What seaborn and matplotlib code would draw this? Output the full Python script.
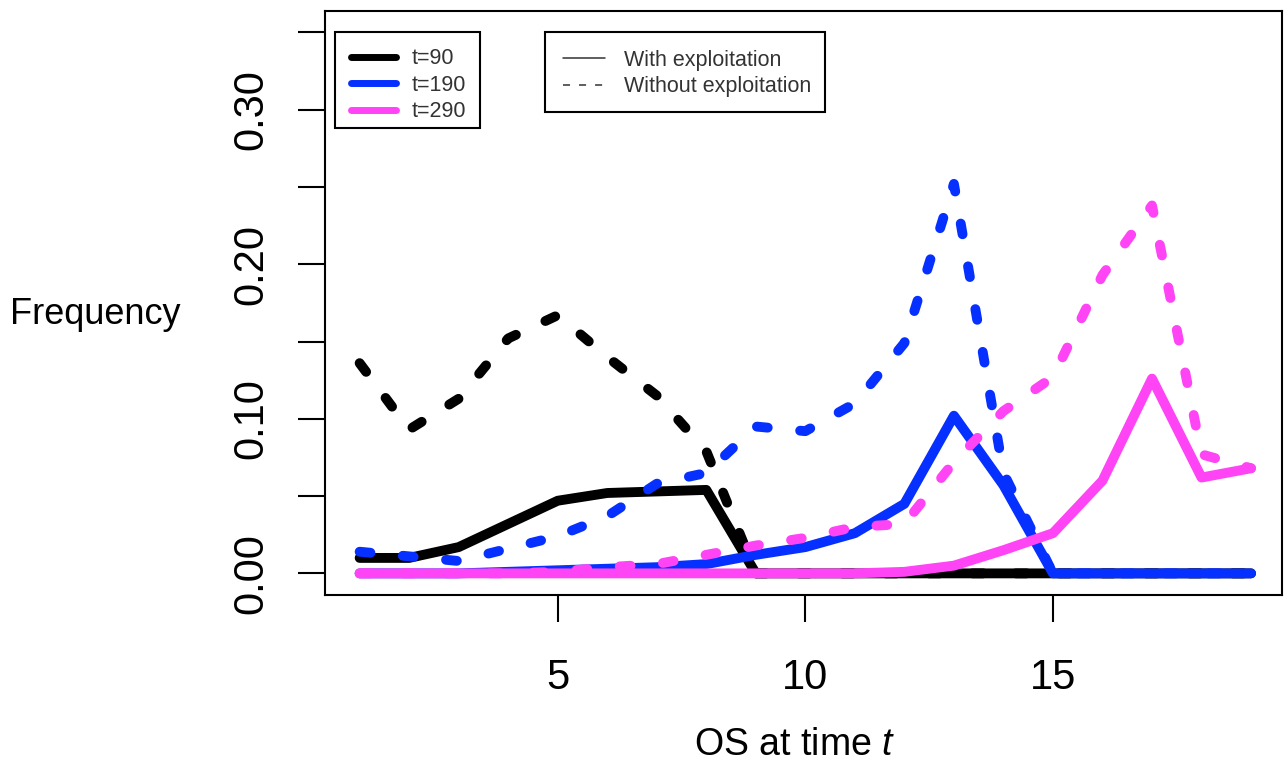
import matplotlib
matplotlib.use("Agg")
import numpy as np
import pandas as pd
import seaborn as sns
import matplotlib.pyplot as plt
from matplotlib.lines import Line2D
from matplotlib.patches import Rectangle
from matplotlib.ticker import FixedLocator, FixedFormatter

# ---------------- data ----------------
os_state = list(range(1, 20))
time_labels = ["t=90", "t=190", "t=290"]
time_colors = ["#000000", "#0530FF", "#FF44F6"]
style_labels = ["With exploitation", "Without exploitation"]

with_t90 = [0.010, 0.010, 0.017, 0.032, 0.047, 0.052, 0.053, 0.054, 0.0,
            0.0, 0.0, 0.0, 0.0, 0.0, 0.0, 0.0, 0.0, 0.0, 0.0]
without_t90 = [0.136, 0.093, 0.113, 0.152, 0.167, 0.140, 0.115, 0.079, 0.0,
               0.0, 0.0, 0.0, 0.0, 0.0, 0.0, 0.0, 0.0, 0.0, 0.0]
with_t190 = [0.0, 0.0, 0.0, 0.001, 0.002, 0.003, 0.004, 0.006, 0.012,
             0.017, 0.026, 0.045, 0.102, 0.057, 0.0, 0.0, 0.0, 0.0, 0.0]
without_t190 = [0.014, 0.011, 0.008, 0.016, 0.024, 0.037, 0.058, 0.065, 0.095,
                0.092, 0.110, 0.149, 0.252, 0.065, 0.0, 0.0, 0.0, 0.0, 0.0]
with_t290 = [0.0, 0.0, 0.0, 0.0, 0.0, 0.0, 0.0, 0.0, 0.0,
             0.0, 0.0, 0.001, 0.005, 0.015, 0.026, 0.060, 0.126, 0.062, 0.068]
without_t290 = [0.0, 0.0, 0.0, 0.0, 0.001, 0.004, 0.006, 0.012, 0.018,
                0.023, 0.030, 0.032, 0.072, 0.105, 0.127, 0.193, 0.238, 0.077, 0.068]

y_ticks = [0.0, 0.05, 0.10, 0.15, 0.20, 0.25, 0.30, 0.35]
y_ticklabels = ["0.00", "", "0.10", "", "0.20", "", "0.30", ""]
x_ticks = [5, 10, 15]
x_ticklabels = ["5", "10", "15"]

series = [
    ("t=90", "With exploitation", with_t90),
    ("t=90", "Without exploitation", without_t90),
    ("t=190", "With exploitation", with_t190),
    ("t=190", "Without exploitation", without_t190),
    ("t=290", "With exploitation", with_t290),
    ("t=290", "Without exploitation", without_t290),
]
rows = []
for t, s, vals in series:
    for x, v in zip(os_state, vals):
        rows.append({"os": x, "freq": v, "time": t, "kind": s})
df = pd.DataFrame(rows)

# ---------------- style ----------------
sns.set_style("white")
plt.rcParams["font.family"] = ["Liberation Sans", "DejaVu Sans"]
plt.rcParams["mathtext.fontset"] = "custom"
plt.rcParams["mathtext.it"] = "Liberation Sans:italic"
plt.rcParams["mathtext.rm"] = "Liberation Sans"

W, H = 1286, 765
fig = plt.figure(figsize=(W / 100, H / 100), dpi=100)
ax = fig.add_axes([0.2527, 0.2222, 0.7440, 0.7638])

color_map = dict(zip(time_labels, time_colors))
main_lw = 7.1
dash_pat = (0, (1.1, 3.3))

for t, s, _ in series:
    sub = df[(df["time"] == t) & (df["kind"] == s)]
    ls = "-" if s == "With exploitation" else dash_pat
    sns.lineplot(data=sub, x="os", y="freq", ax=ax, color=color_map[t],
                 linewidth=main_lw, linestyle=ls, estimator=None, errorbar=None,
                 sort=False, solid_capstyle="round", solid_joinstyle="round",
                 dash_capstyle="round", dash_joinstyle="round")

ax.set_xlim(0.3, 19.62)
ax.set_ylim(-0.014, 0.364)
ax.set_xlabel("")
ax.set_ylabel("")

for sp in ax.spines.values():
    sp.set_visible(True)
    sp.set_color("black")
    sp.set_linewidth(1.5)

ax.yaxis.set_major_locator(FixedLocator(y_ticks))
ax.yaxis.set_major_formatter(FixedFormatter(y_ticklabels))
ax.xaxis.set_major_locator(FixedLocator(x_ticks))
ax.xaxis.set_major_formatter(FixedFormatter(x_ticklabels))
ax.tick_params(axis="both", direction="out", length=19.4, width=1.5,
               color="black", labelsize=30, labelcolor="black",
               left=True, bottom=True)
ax.tick_params(axis="x", pad=26)
ax.tick_params(axis="y", pad=19)
for lab in ax.get_yticklabels():
    lab.set_rotation(90)
    lab.set_va("center")

# axis labels (R-style placement)
fig.text(10 / W, 1 - 315 / H, "Frequency", ha="left", va="center",
         fontsize=26, color="black")
fig.text(795 / W, 1 - 745 / H, "OS at time $t$", ha="center", va="center",
         fontsize=27, color="black")

# legend boxes (R-style, drawn separately so the padding matches)
def legend_box(x0, y0, x1, y1):
    r = Rectangle((x0 / W, 1 - y1 / H), (x1 - x0) / W, (y1 - y0) / H,
                  transform=fig.transFigure, facecolor="white", edgecolor="black",
                  linewidth=1.5, zorder=4, clip_on=False)
    ax.add_patch(r)

legend_box(335, 32, 480, 128)
legend_box(545, 32, 825, 112)

# legends
h1 = [Line2D([], [], color=c, lw=5, solid_capstyle="round") for c in time_colors]
leg1 = ax.legend(h1, time_labels, loc="upper left", bbox_to_anchor=(0.0105, 0.9635),
                 fontsize=15.5, frameon=False, borderpad=0.75, handlelength=2.1,
                 handletextpad=0.7, labelspacing=0.26, borderaxespad=0,
                 labelcolor="#333333")
leg1.set_zorder(6)
ax.add_artist(leg1)

h2 = [Line2D([], [], color="#333333", lw=1.1, linestyle="-"),
      Line2D([], [], color="#333333", lw=1.1, linestyle=(0, (4.6, 5.9)))]
leg2 = ax.legend(h2, style_labels, loc="upper left", bbox_to_anchor=(0.23, 0.9635),
                 fontsize=15.5, frameon=False, borderpad=0.82, handlelength=1.95,
                 handletextpad=0.9, labelspacing=0.26, borderaxespad=0,
                 labelcolor="#333333")
leg2.set_zorder(6)

fig.savefig("out.png", dpi=100, facecolor="white")
